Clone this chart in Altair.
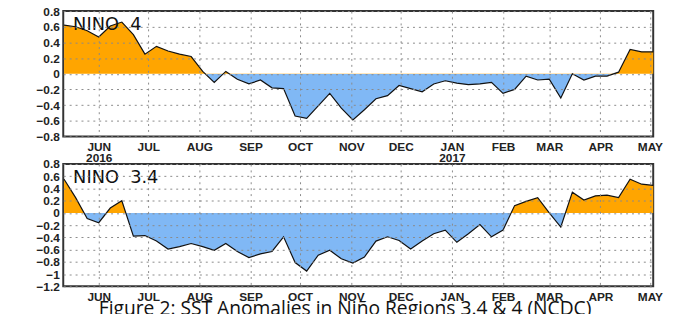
import altair as alt
import pandas as pd

# weekly dates (Wednesdays)
dates = pd.date_range("2016-05-11", periods=52, freq="7D").strftime("%Y-%m-%d").tolist()

nino4 = [0.62, 0.60, 0.55, 0.47, 0.61, 0.66, 0.50, 0.25, 0.35, 0.29, 0.25, 0.22,
         0.03, -0.11, 0.03, -0.07, -0.13, -0.08, -0.18, -0.19, -0.54, -0.57, -0.41, -0.25,
         -0.44, -0.59, -0.46, -0.32, -0.28, -0.15, -0.19, -0.23, -0.13, -0.09, -0.12, -0.14,
         -0.13, -0.11, -0.25, -0.20, -0.03, -0.08, -0.07, -0.31, 0.00, -0.08, -0.03, -0.03,
         0.02, 0.31, 0.28, 0.28]

nino34 = [0.55, 0.25, -0.09, -0.16, 0.08, 0.20, -0.38, -0.37, -0.46, -0.59, -0.55, -0.50,
          -0.55, -0.61, -0.50, -0.63, -0.73, -0.67, -0.63, -0.39, -0.81, -0.95, -0.69, -0.61,
          -0.75, -0.82, -0.72, -0.46, -0.39, -0.45, -0.59, -0.46, -0.34, -0.28, -0.48, -0.34,
          -0.19, -0.39, -0.28, 0.12, 0.19, 0.25, 0.00, -0.23, 0.34, 0.21, 0.28, 0.29,
          0.25, 0.55, 0.47, 0.45]

titles = ["NINO\u00a0\u00a04", "NINO\u00a0\u00a03.4"]
caption = ["Figure 2: SST Anomalies in Niño Regions 3.4 & 4 (NCDC)"]

y_ticks_top = [0.8, 0.6, 0.4, 0.2, 0, -0.2, -0.4, -0.6, -0.8]
y_ticks_bot = [0.8, 0.6, 0.4, 0.2, 0, -0.2, -0.4, -0.6, -0.8, -1.0, -1.2]

ORANGE = "#ffa500"
BLUE = "#80b8f5"

x_domain = [alt.DateTime(year=2016, month=5, date=10, hours=12, utc=True),
            alt.DateTime(year=2017, month=5, date=3, utc=True)]

MONTH = "upper(utcFormat(datum.value, '%b'))"
MM = "utcFormat(datum.value, '%m')"
top_label_expr = f"({MM} == '06' || {MM} == '01') ? [{MONTH}, utcFormat(datum.value, '%Y')] : {MONTH}"


def panel(values, title, height, ydomain, yvalues, label_expr, extra=None):
    df = pd.DataFrame({"date": dates, "anom": values})
    hi = max(max(values), 0)
    lo = min(min(values), 0)
    z = hi / (hi - lo)
    fill = alt.Gradient(
        gradient="linear", x1=0, y1=0, x2=0, y2=1,
        stops=[alt.GradientStop(color=ORANGE, offset=0),
               alt.GradientStop(color=ORANGE, offset=z),
               alt.GradientStop(color=BLUE, offset=z),
               alt.GradientStop(color=BLUE, offset=1)])
    x = alt.X("date:T", title=None,
              scale=alt.Scale(type="utc", domain=x_domain),
              axis=alt.Axis(tickCount=alt.TimeIntervalStep(interval="month", step=1),
                            labelExpr=label_expr, grid=True, ticks=False, domain=False,
                            labelPadding=5, labelFlush=False, labelOverlap=False,
                            labelLineHeight=11, labelBaseline="top",
                            gridDash=[2, 4], gridColor="#8a8a8a", zindex=1))
    y = alt.Y("anom:Q", title=None,
              scale=alt.Scale(domain=ydomain, nice=False, zero=False),
              axis=alt.Axis(values=yvalues, format="~g", grid=True, ticks=False, domain=False,
                            labelPadding=4, gridDash=[2, 4], gridColor="#8a8a8a", zindex=1))
    area = alt.Chart(df).mark_area(color=fill, interpolate="linear").encode(
        x=x, y=y, y2=alt.datum(0))
    line = alt.Chart(df).mark_line(color="#111", strokeWidth=1.2).encode(x=x, y=y)
    lab = alt.Chart(pd.DataFrame({"t": [title]})).mark_text(
        align="left", baseline="alphabetic", font="DejaVu Sans", fontSize=18, color="#111"
    ).encode(x=alt.value(10), y=alt.value(19), text="t:N")
    layers = [area, line, lab]
    if extra is not None:
        layers.append(extra)
    return alt.layer(*layers).properties(width=598, height=height)


cap = alt.Chart(pd.DataFrame({"t": caption})).mark_text(
    align="left", baseline="alphabetic", font="Open Sans", fontSize=19.5, color="#111"
).encode(x=alt.value(36), y=alt.value(153), text="t:N")

top = panel(nino4, titles[0], 127, [-0.8, 0.8], y_ticks_top, top_label_expr)
bot = panel(nino34, titles[1], 124, [-1.2, 0.8], y_ticks_bot, MONTH, extra=cap)

chart = alt.vconcat(top, bot, spacing=28, bounds="flush").configure(
    padding={"left": 27, "top": -6, "right": 5, "bottom": 0}
).configure_view(stroke="#333", strokeWidth=2).configure_axis(
    labelFont="Liberation Sans", labelFontWeight="bold", labelFontSize=12, labelColor="#222"
)

chart.save("out.html", embed_options={"renderer": "svg", "actions": False})
